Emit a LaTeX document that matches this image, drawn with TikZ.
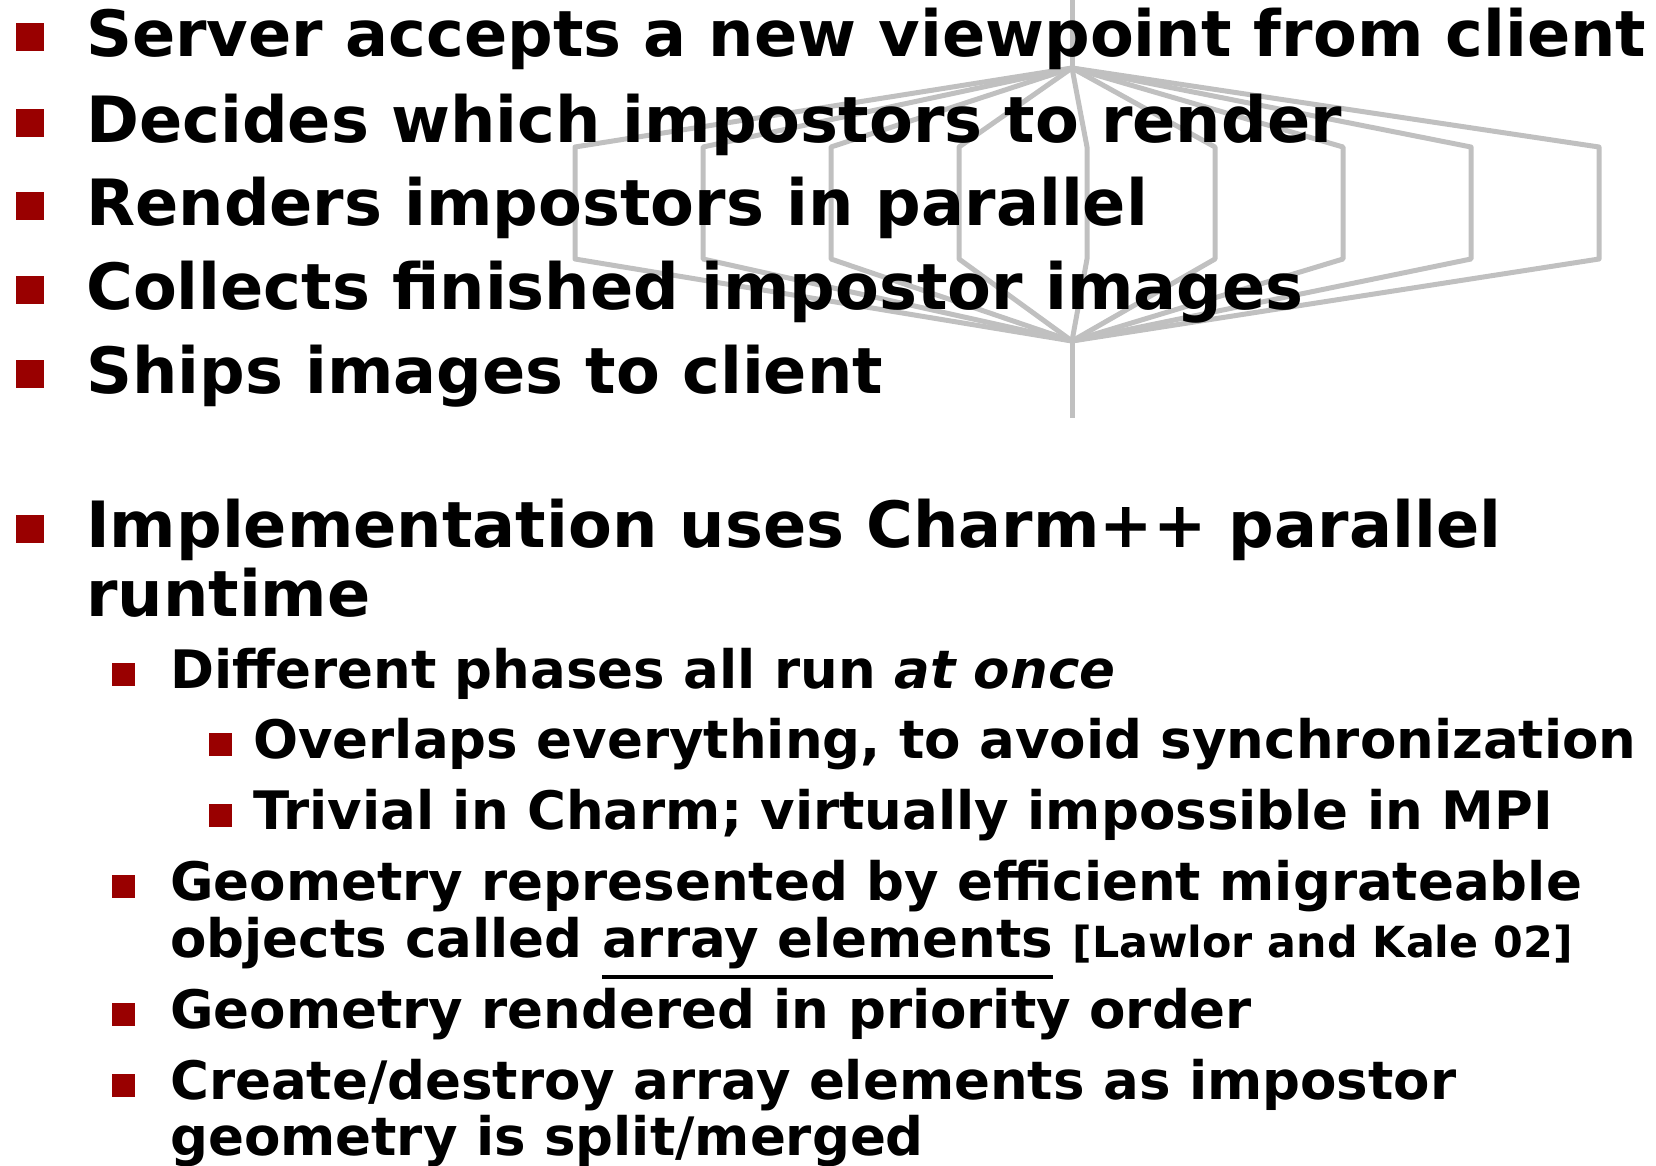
\documentclass[tikz,border=0pt]{standalone}
\usepackage{fontspec}
\setmainfont{DejaVu Sans}
\usetikzlibrary{positioning}
\definecolor{bulletred}{RGB}{153,0,0}
\definecolor{wiregray}{RGB}{192,192,192}
\tikzset{
  wire/.style={draw=wiregray, line width=5pt, line join=round},
  sqA/.style={fill=bulletred, minimum size=28pt, inner sep=0pt},
  sqB/.style={fill=bulletred, minimum size=23pt, inner sep=0pt},
  txtA/.style={anchor=base west, inner sep=0pt, font=\fontsize{63.8}{68}\selectfont\bfseries},
  txtB/.style={anchor=base west, inner sep=0pt, font=\fontsize{53}{58}\selectfont\bfseries},
  txtC/.style={inner sep=0pt, font=\fontsize{42.8}{48}\selectfont\bfseries},
}

\begin{document}
\begin{tikzpicture}[x=1pt, y=-1pt]
    \useasboundingbox (0,0) rectangle (1656,1165);

    % fork / join of the render lanes
    \coordinate (wireTop) at (1072,0);
    \coordinate (hubT) at (1072,68);
    \coordinate (hubB) at (1072,341);
    \coordinate (wireEnd) at (1072,418);
    \draw[wire] (wireTop) -- (hubT);
    \draw[wire] (hubB) -- (wireEnd);
    \foreach \i in {0,...,8}
        \draw[wire] (hubT) -- ({575+128*\i},147) -- ({575+128*\i},259) -- (hubB);

    % server steps
    \node[sqA] (b1) at (30,37) {};
    \node[txtA] (s1) at (86,56) {Server accepts a new viewpoint from client};
    \node[sqA] (b2) at (30,123) {};
    \node[txtA] (s2) at (86,142) {Decides which impostors to render};
    \node[sqA] (b3) at (30,206) {};
    \node[txtA] (s3) at (86,225) {Renders impostors in parallel};
    \node[sqA] (b4) at (30,290) {};
    \node[txtA] (s4) at (86,309) {Collects finished impostor images};
    \node[sqA] (b5) at (30,374) {};
    \node[txtA] (s5) at (86,393) {Ships images to client};

    % implementation
    \node[sqA] (b6) at (30,529) {};
    \node[txtA] (impl) at (86,547) {Implementation uses Charm++ parallel};
    \node[txtA] (implB) at (86,616) {runtime};

    \node[sqB] (c1) at (123,674) {};
    \node[txtB] (phase) at (170,688) {Different phases all run {\itshape at once}};
    \node[sqB] (d1) at (220,744) {};
    \node[txtB] (overlap) at (253,758) {Overlaps everything, to avoid synchronization};
    \node[sqB] (d2) at (220,815) {};
    \node[txtB] (trivial) at (253,829) {Trivial in Charm; virtually impossible in MPI};

    \node[sqB] (c2) at (123,886) {};
    \node[txtB] (geom) at (170,900) {Geometry represented by efficient migrateable};
    \node[txtB] (objs) at (170,957) {objects called};
    \node[txtB, base right=19pt of objs] (arrayEl) {array elements};
    \node[txtC, base right=19pt of arrayEl] (cite) {[Lawlor and Kale 02]};
    \draw[line width=4.5pt] ([yshift=-20pt]arrayEl.base west) -- ([yshift=-20pt]arrayEl.base east);

    \node[sqB] (c3) at (123,1014) {};
    \node[txtB] (prio) at (170,1028) {Geometry rendered in priority order};
    \node[sqB] (c4) at (123,1085) {};
    \node[txtB] (create) at (170,1099) {Create/destroy array elements as impostor};
    \node[txtB] (createB) at (170,1155) {geometry is split/merged};
\end{tikzpicture}
\end{document}
